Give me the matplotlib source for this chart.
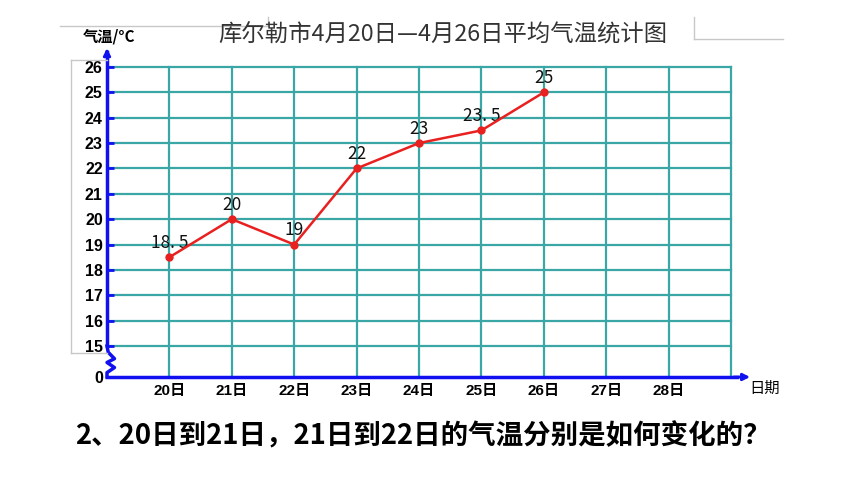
import matplotlib
matplotlib.use("Agg")
import matplotlib.pyplot as plt
from matplotlib.lines import Line2D

plt.rcParams['font.family'] = ['Noto Sans CJK SC', 'DejaVu Sans']

days = ['20日', '21日', '22日', '23日', '24日', '25日', '26日', '27日', '28日']
temps = [18.5, 20, 19, 22, 23, 23.5, 25]
temp_labels = ['18. 5', '20', '19', '22', '23', '23. 5', '25']
y_ticks = list(range(15, 27))

W, H = 860, 484
fig = plt.figure(figsize=(W / 100, H / 100), dpi=100)


def fx(px):
    return px / W


def fy(py):
    return 1 - py / H


# main axes: pixel box (107, 40) - (755, 377)
ax = fig.add_axes([fx(107), fy(377), fx(755 - 107), (377 - 40) / H])
unit_x = 62.4
unit_y = 25.36
x_max = (755 - 107) / unit_x
y_min = 15 - (377 - 346) / unit_y
y_max = 26 + (67 - 40) / unit_y
ax.set_xlim(0, x_max)
ax.set_ylim(y_min, y_max)
for s in ax.spines.values():
    s.set_visible(False)

grid_c = '#3aa6a6'
for v in y_ticks:
    ax.plot([0, 10], [v, v], color=grid_c, lw=1.6, zorder=1)
for i in range(1, 11):
    ax.plot([i, i], [y_min, 26], color=grid_c, lw=1.6, zorder=1)

# axes lines
blue = '#1010f0'
ax.plot([0, 0], [15, 26.6], color=blue, lw=2.5, zorder=3, clip_on=False)
zz_x = [0, 0.02, 0.12, 0.0, 0.12, 0.0, 0.0]
zz_y = [15, 14.75, 14.5, 14.35, 14.15, 13.95, y_min]
ax.plot(zz_x, zz_y, color=blue, lw=2.5, zorder=3, clip_on=False)
ax.plot([0, 10.1], [y_min, y_min], color=blue, lw=2.5, zorder=3, clip_on=False)
ax.annotate('', xy=(0, 26.85), xytext=(0, 26.4),
            arrowprops=dict(arrowstyle='-|>', color=blue, lw=2, mutation_scale=10),
            annotation_clip=False)
ax.annotate('', xy=(10.35, y_min), xytext=(10.0, y_min),
            arrowprops=dict(arrowstyle='-|>', color=blue, lw=2, mutation_scale=10),
            annotation_clip=False)

# ticks
ax.set_yticks([y_min] + y_ticks)
ax.set_yticklabels(['0'] + [str(v) for v in y_ticks],
                   fontweight='bold', fontsize=11.5, family=['Liberation Sans', 'DejaVu Sans'])
ax.tick_params(axis='y', direction='in', length=5, width=2, color=blue, pad=3)
ax.set_xticks(range(1, len(days) + 1))
ax.set_xticklabels(days, fontweight='bold', fontsize=11,
                   family=['Liberation Sans', 'Noto Sans CJK SC'])
ax.tick_params(axis='x', length=0, pad=5)

# data line
xs = list(range(1, len(temps) + 1))
ax.plot(xs, temps, color='#e82020', lw=1.8, marker='o', markersize=5, zorder=4)
for x, t, lab in zip(xs, temps, temp_labels):
    ax.annotate(lab, (x, t), xytext=(0, 4), textcoords='offset points',
                ha='center', va='bottom', fontsize=12.5, color='#111111')

# texts
fig.text(fx(109), fy(37), '气温/°C', ha='center', va='center', fontsize=11, fontweight='bold')
fig.text(fx(443), fy(35), '库尔勒市4月20日—4月26日平均气温统计图', ha='center', va='center',
         fontsize=16.8, color='#333333')
fig.text(fx(765), fy(388), '日期', ha='center', va='center', fontsize=11)
fig.text(fx(423), fy(437), '2、20日到21日，21日到22日的气温分别是如何变化的？',
         ha='center', va='center', fontsize=19.8, fontweight='bold')

# slide decoration lines
gray = '#c8c8c8'
for xs_, ys_ in [([60, 268], [26, 26]), ([268, 268], [17, 26]),
                 ([694, 694], [17, 39]), ([694, 783], [39, 39]),
                 ([71, 71], [60, 353]), ([71, 107], [60, 60]), ([71, 107], [353, 353])]:
    fig.add_artist(Line2D([fx(p) for p in xs_], [fy(p) for p in ys_], color=gray, lw=1))

fig.savefig('out.png', dpi=100)
